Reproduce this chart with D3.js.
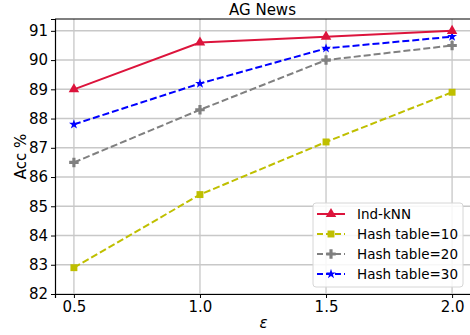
<!DOCTYPE html>
<html>
<head>
<meta charset="utf-8">
<script src="https://cdn.jsdelivr.net/npm/d3@7"></script>
<style>
  body { margin: 0; background: #fff; }
  text { font-family: "DejaVu Sans", sans-serif; fill: #000; }
</style>
</head>
<body>
<div id="chart"></div>
<script>
// data
const epsilons = [0.5, 1.0, 1.5, 2.0];
const indKnn = [89.0, 90.6, 90.8, 91.0];
const hash10 = [82.9, 85.4, 87.2, 88.9];
const hash20 = [86.5, 88.3, 90.0, 90.5];
const hash30 = [87.8, 89.2, 90.4, 90.8];
const yTicks = [82, 83, 84, 85, 86, 87, 88, 89, 90, 91];

const series = [
  { name: "Ind-kNN", values: indKnn, color: "#dc143c", dash: null, marker: "triangle" },
  { name: "Hash table=10", values: hash10, color: "#bfbf00", dash: "7,3", marker: "square" },
  { name: "Hash table=20", values: hash20, color: "#808080", dash: "7,3", marker: "plus" },
  { name: "Hash table=30", values: hash30, color: "#0000ff", dash: "7,3", marker: "star" },
];

const width = 470, height = 335;
const margin = { top: 19, right: 0, bottom: 41, left: 55 };
const innerW = width - margin.left - margin.right;
const innerH = height - margin.top - margin.bottom;

const svg = d3.select("#chart").append("svg")
  .attr("width", width).attr("height", height);
const g = svg.append("g")
  .attr("transform", `translate(${margin.left},${margin.top})`);

// plot runs slightly past the right edge, so the right spine is not visible
const x = d3.scaleLinear().domain([0.425, 2.075]).range([0, innerW + 1]);
const y = d3.scaleLinear().domain([82, 91.405]).range([innerH, 0]);

// grid
g.append("g").selectAll("line").data(epsilons).join("line")
  .attr("x1", d => x(d)).attr("x2", d => x(d))
  .attr("y1", 0).attr("y2", innerH)
  .attr("stroke", "#cfcfcf").attr("stroke-width", 1.5);
g.append("g").selectAll("line").data(yTicks).join("line")
  .attr("x1", 0).attr("x2", innerW)
  .attr("y1", d => y(d)).attr("y2", d => y(d))
  .attr("stroke", "#c8c8c8").attr("stroke-width", 1.5);

// axes
const xAxis = g.append("g").attr("transform", `translate(0,${innerH})`)
  .call(d3.axisBottom(x).tickValues(epsilons).tickFormat(d3.format(".1f")).tickSizeOuter(0).tickSize(4).tickPadding(3));
const yAxis = g.append("g")
  .call(d3.axisLeft(y).tickValues(yTicks).tickFormat(d3.format("d")).tickSizeOuter(0).tickSize(4).tickPadding(3));
[xAxis, yAxis].forEach(a => {
  a.selectAll("text").style("font-size", "15px").style("font-family", "DejaVu Sans");
  a.selectAll(".domain").attr("stroke", "#000").attr("stroke-width", 1.2);
  a.selectAll(".tick line").attr("stroke", "#000");
});
// top spine
g.append("line").attr("x1", 0).attr("x2", innerW).attr("y1", 0).attr("y2", 0)
  .attr("stroke", "#000").attr("stroke-width", 1.2);

// markers
const symbols = {
  triangle: d3.symbol().type(d3.symbolTriangle).size(48),
  square: d3.symbol().type(d3.symbolSquare).size(48),
  plus: d3.symbol().type(d3.symbolCross).size(50),
  star: d3.symbol().type(d3.symbolStar).size(30),
};

const line = d3.line().x((d, i) => x(epsilons[i])).y(d => y(d));

series.slice().reverse().forEach(s => {
  g.append("path").datum(s.values)
    .attr("d", line)
    .attr("fill", "none")
    .attr("stroke", s.color)
    .attr("stroke-width", 2)
    .attr("stroke-dasharray", s.dash);
  g.append("g").selectAll("path").data(s.values).join("path")
    .attr("transform", (d, i) => `translate(${x(epsilons[i])},${y(d)})`)
    .attr("d", symbols[s.marker]())
    .attr("fill", s.color);
});

// title & labels
svg.append("text").attr("x", margin.left + innerW / 2).attr("y", 15)
  .attr("text-anchor", "middle").style("font-size", "15px").text("AG News");
svg.append("text").attr("transform", `translate(26,${margin.top + innerH / 2}) rotate(-90)`)
  .attr("text-anchor", "middle").style("font-size", "15px").text("Acc %");
svg.append("text").attr("x", margin.left + innerW / 2 + 1).attr("y", 328)
  .attr("text-anchor", "middle").style("font-size", "15px").style("font-style", "italic").text("ε");

// legend
const legend = svg.append("g").attr("transform", "translate(313,203)");
legend.append("rect").attr("width", 150).attr("height", 84).attr("rx", 3)
  .attr("fill", "#fff").attr("fill-opacity", 0.85)
  .attr("stroke", "#d6d6d6");
series.forEach((s, i) => {
  const row = legend.append("g").attr("transform", `translate(0,${11 + i * 20})`);
  row.append("line").attr("x1", 4).attr("x2", 32).attr("y1", 0).attr("y2", 0)
    .attr("stroke", s.color).attr("stroke-width", 2).attr("stroke-dasharray", s.dash ? "6,3" : null);
  row.append("path").attr("transform", "translate(18,0)").attr("d", symbols[s.marker]()).attr("fill", s.color);
  row.append("text").attr("x", 44).attr("y", 5).style("font-size", "13.5px").text(s.name);
});
</script>
</body>
</html>
